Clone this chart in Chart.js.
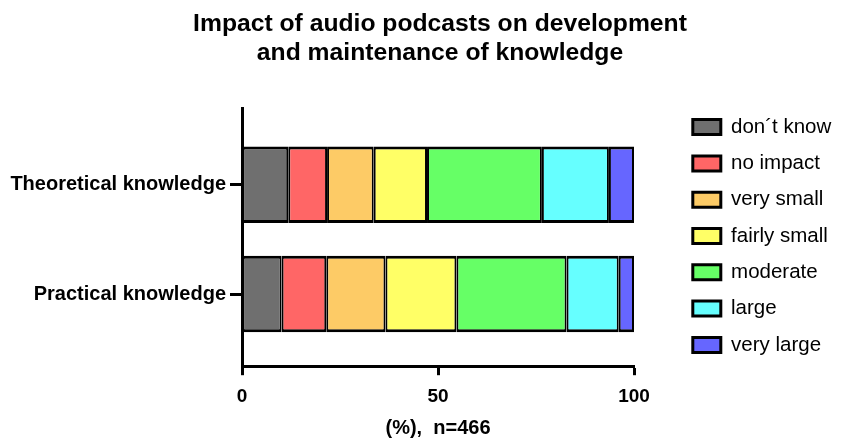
<!DOCTYPE html>
<html>
<head>
<meta charset="utf-8">
<script src="https://cdn.jsdelivr.net/npm/chart.js@4"></script>
<style>
    body { margin: 0; background: #fff; }
    #wrap { width: 853px; height: 438px; }
</style>
</head>
<body>
<div id="wrap"><canvas id="podcast-chart"></canvas></div>
<script>
// Categories (rows of the chart)
const categories = ['Theoretical knowledge', 'Practical knowledge'];

// Answer share per category in percent
const dontKnow    = [11.8, 10.1];
const noImpact    = [9.9, 11.4];
const verySmall   = [11.9, 15.1];
const fairlySmall = [13.6, 18.1];
const moderate    = [29.3, 28.1];
const large       = [17.1, 13.3];
const veryLarge   = [6.4, 3.9];

const seriesNames  = ['don\u00b4t know', 'no impact', 'very small', 'fairly small', 'moderate', 'large', 'very large'];
const seriesValues = [dontKnow, noImpact, verySmall, fairlySmall, moderate, large, veryLarge];
const seriesColors = ['#6f6f6f', '#ff6666', '#fdcb66', '#ffff66', '#66ff66', '#66ffff', '#6666ff'];

const xTicks = [0, 50, 100];

const fontFamily = '"Liberation Sans", Arial, sans-serif';

// Build one dataset per answer; y holds the row index of the category
const datasets = seriesNames.map((name, s) => ({
    label: name,
    data: seriesValues[s].map((v, i) => ({ x: v, y: i })),
    backgroundColor: seriesColors[s],
    borderColor: '#000',
    borderWidth: { top: 3, bottom: 3, left: 2, right: 2 },
    borderSkipped: false,
    barPercentage: 0.7,
    categoryPercentage: 1
}));

// Small layout tweaks: legend sits a bit away from the plot,
// long category labels may use the free space on the left
const layoutTweaks = {
    id: 'layoutTweaks',
    afterLayout(chart) {
        const legend = chart.legend;
        legend.left += 43;
        legend.right = chart.width;
        legend.top += 17;
        legend.bottom += 17;
        chart.scales.y.left = 0;
    }
};

Chart.defaults.color = '#000';
Chart.defaults.font.family = fontFamily;

const ctx = document.getElementById('podcast-chart').getContext('2d');
new Chart(ctx, {
    type: 'bar',
    data: { datasets: datasets },
    options: {
        indexAxis: 'y',
        responsive: true,
        maintainAspectRatio: false,
        animation: false,
        layout: { padding: { left: 106, right: 79, top: 0, bottom: 0 } },
        scales: {
            x: {
                stacked: true,
                min: 0,
                max: 100,
                afterBuildTicks: scale => { scale.ticks = xTicks.map(v => ({ value: v })); },
                border: { display: true, color: '#000', width: 3 },
                grid: { drawOnChartArea: false, drawTicks: true, tickLength: 9, tickWidth: 3, tickColor: '#000' },
                ticks: { font: { size: 19, weight: 'bold' }, padding: 10, color: '#000' },
                title: {
                    display: true,
                    text: '(%),  n=466',
                    font: { size: 20, weight: 'bold' },
                    padding: { top: -2, bottom: -2 },
                    color: '#000'
                }
            },
            y: {
                type: 'linear',
                stacked: true,
                reverse: true,
                offset: false,
                min: -0.7,
                max: 1.66,
                afterBuildTicks: scale => { scale.ticks = categories.map((c, i) => ({ value: i })); },
                afterFit: scale => { scale.width = 136; },
                border: { display: true, color: '#000', width: 3 },
                grid: { offset: false, drawOnChartArea: false, drawTicks: true, tickLength: 12, tickWidth: 3, tickColor: '#000' },
                ticks: {
                    callback: value => categories[value],
                    font: { size: 20, weight: 'bold' },
                    padding: 4,
                    color: '#000'
                }
            }
        },
        plugins: {
            title: {
                display: true,
                text: ['Impact of audio podcasts on development', 'and maintenance of knowledge'],
                font: { size: 24.7, weight: 'bold', lineHeight: 1.2 },
                padding: { top: 9, bottom: 40 },
                color: '#000'
            },
            legend: {
                position: 'right',
                maxWidth: 140,
                labels: {
                    boxWidth: 28,
                    boxHeight: 15,
                    padding: 15.8,
                    font: { size: 20.5 },
                    color: '#000',
                    generateLabels: chart => Chart.defaults.plugins.legend.labels.generateLabels(chart)
                        .map(item => ({ ...item, lineWidth: 3 }))
                }
            },
            tooltip: { enabled: false }
        }
    },
    plugins: [layoutTweaks]
});
</script>
</body>
</html>
